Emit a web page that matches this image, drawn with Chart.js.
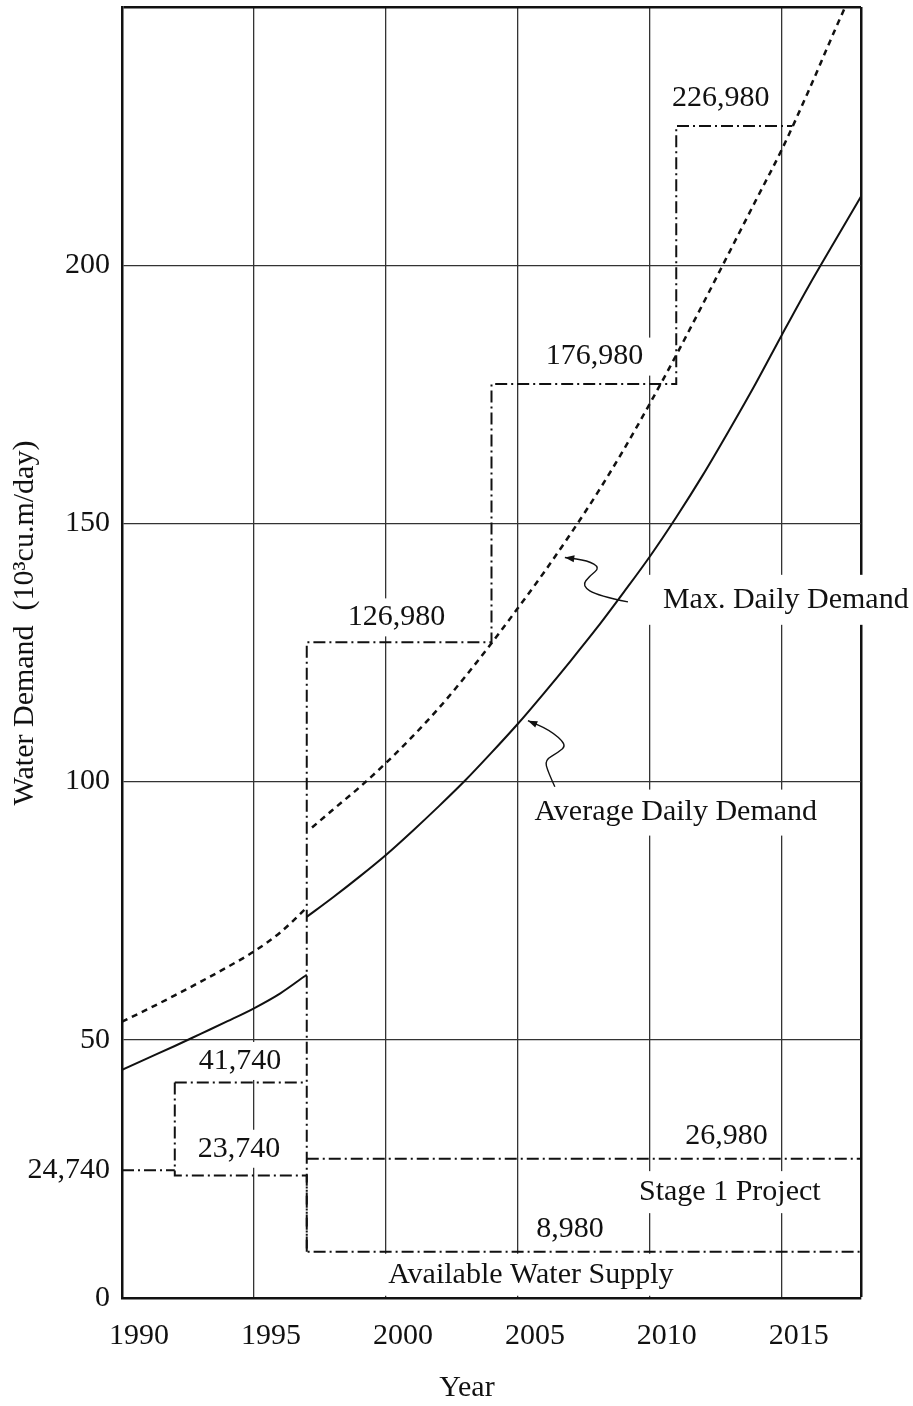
<!DOCTYPE html>
<html>
<head>
<meta charset="utf-8">
<script src="https://cdn.jsdelivr.net/npm/chart.js@4.4.0/dist/chart.umd.min.js"></script>
<style>
  html, body { margin: 0; padding: 0; background: #fff; }
</style>
</head>
<body>
<canvas id="chart" width="913" height="1406"></canvas>
<script>
// Water demand projection against supply capacity, in 10^3 cu.m/day

// Average daily demand, before and after the 1997 jump
const avgYearsA = [1990, 1991, 1992, 1993, 1994, 1995, 1996, 1997];
const avgValuesA = [44.2, 46.5, 48.8, 51.2, 53.6, 56.1, 59.0, 62.6];
const avgYearsB = [1997, 1998, 1999, 2000, 2001, 2002, 2003, 2004, 2005, 2006, 2007,
  2008, 2009, 2010, 2011, 2012, 2013, 2014, 2015, 2016, 2017, 2018];
const avgValuesB = [73.8, 77.6, 81.6, 85.8, 90.4, 95.2, 100.2, 105.6, 111.2, 117.2, 123.4,
  129.8, 136.6, 143.6, 151.2, 159.3, 168.0, 177.0, 186.5, 195.8, 204.6, 213.3];

// Max. daily demand
const maxYearsA = [1990, 1991, 1992, 1993, 1994, 1995, 1996, 1997];
const maxValuesA = [53.5, 56.0, 58.6, 61.3, 64.1, 67.1, 70.8, 75.6];
const maxYearsB = [1997.2, 1998, 1999, 2000, 2001, 2002, 2003, 2004, 2005, 2006, 2007,
  2008, 2009, 2010, 2011, 2012, 2013, 2014, 2015, 2016, 2017, 2017.4];
const maxValuesB = [91.1, 94.6, 98.9, 103.6, 108.7, 114.2, 120.3, 126.8, 133.6, 140.6, 148.0,
  155.8, 164.2, 173.2, 182.6, 192.4, 202.4, 212.4, 222.4, 233.6, 245.4, 250];

// Supply steps (dash-dot lines)
const earlyX = [1990, 1992];
const earlyY = [24.74, 24.74];
const boxTopX = [1992, 1997];
const boxTopY = [41.74, 41.74];
const availX = [1992, 1992, 1997, 1997, 2018];
const availY = [41.74, 23.74, 23.74, 8.98, 8.98];
const stage1X = [1997, 2018];
const stage1Y = [26.98, 26.98];
const expandX = [1997, 1997, 2004, 2004, 2011, 2011, 2015.4];
const expandY = [8.98, 126.98, 126.98, 176.98, 176.98, 226.98, 226.98];

// Axis ticks
const xTickValues = [1990, 1995, 2000, 2005, 2010, 2015, 2018];
const xTickLabels = ['1990', '1995', '2000', '2005', '2010', '2015', ''];
const yTickValues = [0, 24.74, 50, 100, 150, 200, 250];
const yTickLabels = ['0', '24,740', '50', '100', '150', '200', ''];

// Text notes on the plot
const noteTexts = ['226,980', '176,980', '126,980', '41,740', '23,740', '26,980',
  'Stage 1 Project', '8,980', 'Available Water Supply', 'Max. Daily Demand', 'Average Daily Demand'];
const noteX = [2012.69, 2007.9, 2000.4, 1994.47, 1994.43, 2012.9, 2013.03, 2006.97, 2005.49, 2015.15, 2010.98];
const noteY = [232.3, 182.3, 131.8, 45.9, 28.9, 31.4, 20.5, 13.4, 4.5, 135.2, 94.0];
const notePadX = [8, 8, 8, 8, 8, 8, 10, 8, 10, 16, 10];
const notePadY = [6, 6, 6, 6, 6, 6, 8, 6, 8, 12, 10];

// Curly pointer lines, tail first, tip last
const maxArrowX = [2009.17, 2008.03, 2007.42, 2007.73, 2008.11, 2007.65, 2006.78];
const maxArrowY = [134.8, 136.0, 137.9, 139.9, 141.4, 142.8, 143.4];
const avgArrowX = [2006.40, 2006.14, 2006.02, 2006.52, 2006.86, 2006.21, 2005.38];
const avgArrowY = [99.0, 101.9, 104.2, 105.6, 107.1, 110.0, 111.8];

const FONT = '30px "Liberation Serif", "Times New Roman", serif';
const INK = '#111';
const DASHDOT = [12, 4, 2, 4];

function pts(xs, ys) {
  return xs.map((x, i) => ({ x: x, y: ys[i] }));
}

function stepSet(xs, ys) {
  return {
    data: pts(xs, ys),
    borderColor: INK,
    borderWidth: 2,
    borderDash: DASHDOT,
    pointRadius: 0,
    tension: 0
  };
}

function curveSet(xs, ys, dash, width) {
  return {
    data: pts(xs, ys),
    borderColor: INK,
    borderWidth: width,
    borderDash: dash,
    pointRadius: 0,
    cubicInterpolationMode: 'monotone'
  };
}

function drawCurl(ctx, px, py) {
  ctx.beginPath();
  ctx.moveTo(px[0], py[0]);
  for (let i = 1; i < px.length - 1; i++) {
    const mx = (px[i] + px[i + 1]) / 2, my = (py[i] + py[i + 1]) / 2;
    ctx.quadraticCurveTo(px[i], py[i], mx, my);
  }
  const n = px.length - 1;
  ctx.lineTo(px[n], py[n]);
  ctx.stroke();
  // arrow head
  const ang = Math.atan2(py[n] - py[n - 1], px[n] - px[n - 1]);
  ctx.beginPath();
  ctx.moveTo(px[n], py[n]);
  ctx.lineTo(px[n] - 10 * Math.cos(ang - 0.35), py[n] - 10 * Math.sin(ang - 0.35));
  ctx.lineTo(px[n] - 10 * Math.cos(ang + 0.35), py[n] - 10 * Math.sin(ang + 0.35));
  ctx.closePath();
  ctx.fill();
}

const notesPlugin = {
  id: 'notes',
  beforeDatasetsDraw(chart) {
    // white boxes behind the notes hide the grid, like in the print
    const { ctx, scales: { x, y } } = chart;
    ctx.save();
    ctx.font = FONT;
    ctx.fillStyle = '#fff';
    noteTexts.forEach((t, i) => {
      const w = ctx.measureText(t).width;
      const cx = x.getPixelForValue(noteX[i]);
      const cy = y.getPixelForValue(noteY[i]);
      ctx.fillRect(cx - w / 2 - notePadX[i], cy - 13 - notePadY[i], w + 2 * notePadX[i], 26 + 2 * notePadY[i]);
    });
    ctx.restore();
  },
  afterDraw(chart) {
    const { ctx, scales: { x, y } } = chart;
    ctx.save();
    ctx.font = FONT;
    ctx.fillStyle = INK;
    ctx.textAlign = 'center';
    ctx.textBaseline = 'middle';
    noteTexts.forEach((t, i) => {
      ctx.fillText(t, x.getPixelForValue(noteX[i]), y.getPixelForValue(noteY[i]));
    });

    ctx.strokeStyle = INK;
    ctx.lineWidth = 1.4;
    ctx.setLineDash([]);
    drawCurl(ctx, maxArrowX.map(v => x.getPixelForValue(v)), maxArrowY.map(v => y.getPixelForValue(v)));
    drawCurl(ctx, avgArrowX.map(v => x.getPixelForValue(v)), avgArrowY.map(v => y.getPixelForValue(v)));

    // axis titles
    ctx.fillText('Year', 467, 1388);
    ctx.translate(25, 623);
    ctx.rotate(-Math.PI / 2);
    ctx.fillText('Water Demand  (10³cu.m/day)', 0, 0);
    ctx.restore();
  }
};

new Chart(document.getElementById('chart'), {
  type: 'line',
  data: {
    datasets: [
      curveSet(avgYearsA, avgValuesA, [], 2),
      curveSet(avgYearsB, avgValuesB, [], 2),
      curveSet(maxYearsA, maxValuesA, [6, 5], 2.5),
      curveSet(maxYearsB, maxValuesB, [6, 5], 2.5),
      stepSet(earlyX, earlyY),
      stepSet(boxTopX, boxTopY),
      stepSet(availX, availY),
      stepSet(stage1X, stage1Y),
      stepSet(expandX, expandY)
    ]
  },
  options: {
    responsive: false,
    animation: false,
    devicePixelRatio: 1,
    layout: { autoPadding: false, padding: { top: 7, right: 52, left: 0, bottom: 0 } },
    plugins: { legend: { display: false }, tooltip: { enabled: false } },
    scales: {
      x: {
        type: 'linear',
        min: 1990,
        max: 2018,
        afterBuildTicks: scale => { scale.ticks = xTickValues.map(v => ({ value: v })); },
        afterFit: scale => {
          scale.height = 108;
          scale.paddingLeft = 0;
          scale.paddingRight = 0;
        },
        ticks: {
          callback: (v, i) => xTickLabels[i],
          font: { family: '"Liberation Serif", serif', size: 30 },
          color: INK,
          padding: 20,
          labelOffset: 17,
          maxRotation: 0,
          autoSkip: false
        },
        grid: {
          color: ctx => ctx.tick && ctx.tick.value === 1990 ? 'rgba(0,0,0,0)' : (ctx.tick && ctx.tick.value === 2018 ? INK : '#333'),
          lineWidth: ctx => ctx.tick && ctx.tick.value === 2018 ? 2.5 : 1.3,
          drawTicks: false
        },
        border: { color: INK, width: 2.5 }
      },
      y: {
        type: 'linear',
        min: 0,
        max: 250,
        afterBuildTicks: scale => { scale.ticks = yTickValues.map(v => ({ value: v })); },
        afterFit: scale => {
          scale.width = 122;
          scale.paddingTop = 0;
          scale.paddingBottom = 0;
        },
        ticks: {
          callback: (v, i) => yTickLabels[i],
          font: { family: '"Liberation Serif", serif', size: 30 },
          color: INK,
          padding: 12,
          autoSkip: false
        },
        grid: {
          color: ctx => {
            const v = ctx.tick && ctx.tick.value;
            if (v === 0 || v === 24.74) return 'rgba(0,0,0,0)';
            return v === 250 ? INK : '#333';
          },
          lineWidth: ctx => ctx.tick && ctx.tick.value === 250 ? 2.5 : 1.3,
          drawTicks: false
        },
        border: { color: INK, width: 2.5 }
      }
    }
  },
  plugins: [notesPlugin]
});
</script>
</body>
</html>
